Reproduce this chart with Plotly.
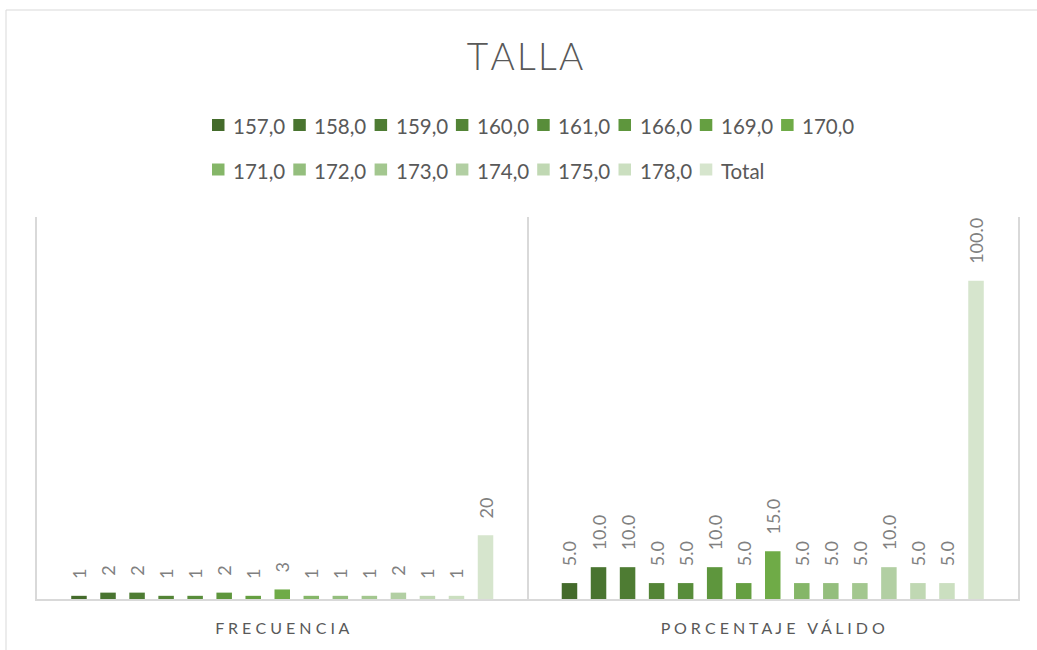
import plotly.graph_objects as go

# ---------------- data ----------------
categories = ["FRECUENCIA", "PORCENTAJE VÁLIDO"]
series_names = ["157,0", "158,0", "159,0", "160,0", "161,0", "166,0", "169,0", "170,0",
                "171,0", "172,0", "173,0", "174,0", "175,0", "178,0", "Total"]
frecuencia = [1, 2, 2, 1, 1, 2, 1, 3, 1, 1, 1, 2, 1, 1, 20]
porcentaje_valido = [5.0, 10.0, 10.0, 5.0, 5.0, 10.0, 5.0, 15.0, 5.0, 5.0, 5.0, 10.0, 5.0, 5.0, 100.0]

# ---------------- style ----------------
colors = ["#446b2b", "#497430", "#4e7c33", "#538436", "#588d3a", "#5e963d", "#659f41", "#6fab47",
          "#85b668", "#94be7d", "#a3c78f", "#b2cfa3", "#c0d8b3", "#cbdfc0", "#d6e5cd"]
FONT = "Lato"
W, H = 1037, 650
L, R, T, B = 37, 19, 217, 51
PW, PH = W - L - R, H - T - B


def px(x):
    return (x - L) / PW


def py(y):
    return (H - B - y) / PH


PAD = "\u00a0" * 3

fig = go.Figure()
for i, name in enumerate(series_names):
    vals = [frecuencia[i], porcentaje_valido[i]]
    txt = [PAD + f"{frecuencia[i]:.0f}", PAD + f"{porcentaje_valido[i]:.1f}"]
    fig.add_trace(go.Bar(
        x=categories, y=vals, name=name,
        marker=dict(color=colors[i], line=dict(width=0)),
        text=txt, textposition="outside", textangle=-90,
        constraintext="none", cliponaxis=False,
        textfont=dict(family=FONT, size=18, color="#808080"),
        showlegend=False, hoverinfo="x+y+name",
    ))

shapes = []
annotations = []
# legend (two rows, Excel-like grid)
for i, name in enumerate(series_names):
    row, col = divmod(i, 8)
    sx = 212 + 81.3 * col
    yc = 125 + 44.5 * row
    shapes.append(dict(type="rect", xref="paper", yref="paper",
                       x0=px(sx), x1=px(sx + 12.5), y0=py(yc + 6), y1=py(yc - 6),
                       fillcolor=colors[i], line=dict(width=0)))
    annotations.append(dict(xref="paper", yref="paper", x=px(sx + 19), y=py(yc + 1),
                            xanchor="left", yanchor="middle", showarrow=False,
                            text=name, font=dict(family=FONT, size=20.5, color="#595959")))

# outer chart border
shapes.append(dict(type="rect", xref="paper", yref="paper", layer="below",
                   x0=px(6), x1=px(1045), y0=py(660), y1=py(10),
                   line=dict(color="#d9d9d9", width=1), fillcolor="rgba(0,0,0,0)"))

fig.update_layout(
    width=W, height=H,
    margin=dict(l=L, r=R, t=T, b=B, pad=0),
    paper_bgcolor="white", plot_bgcolor="white",
    barmode="group", bargap=0.112, bargroupgap=0.466,
    title=dict(text="T\u200aA\u200aL\u200aL\u200aA", x=525 / W, xref="container", xanchor="center",
               y=1 - 57 / H, yref="container", yanchor="middle",
               font=dict(family=FONT, size=37, color="#595959", weight=300)),
    shapes=shapes, annotations=annotations,
    showlegend=False,
    xaxis=dict(type="category", tickson="boundaries", showgrid=True, gridcolor="#d9d9d9",
               gridwidth=1.5, showline=True, linecolor="#d9d9d9", linewidth=1.5, ticks="",
               tickvals=categories, ticktext=[" ".join(c) for c in categories],
               tickfont=dict(family=FONT, size=16, color="#595959"),
               ticklabelstandoff=14, range=[-0.5, 1.5]),
    yaxis=dict(range=[0, 120], showgrid=False, zeroline=False, showticklabels=False,
               showline=True, mirror=True, linecolor="#d9d9d9", linewidth=1.5, ticks=""),
)

fig.write_html("out.html", config={"displayModeBar": False},
               post_script="document.body.style.margin='0';")
